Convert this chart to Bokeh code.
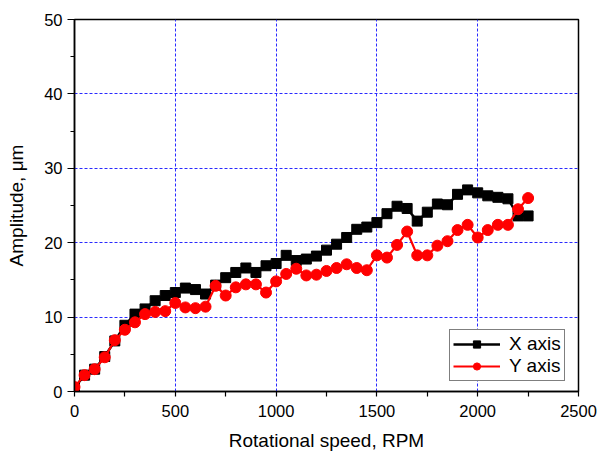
from bokeh.plotting import figure
from bokeh.models import FixedTicker, Range1d, Legend
from bokeh.embed import file_html
from bokeh.resources import INLINE

rpm = [0, 50, 100, 150, 200, 250, 300, 350, 400, 450,
       500, 550, 600, 650, 700, 750, 800, 850, 900, 950,
       1000, 1050, 1100, 1150, 1200, 1250, 1300, 1350, 1400, 1450,
       1500, 1550, 1600, 1650, 1700, 1750, 1800, 1850, 1900, 1950,
       2000, 2050, 2100, 2150, 2200, 2250]

x_axis_amp = [0.5, 2.2, 3.0, 4.7, 6.8, 8.9, 10.4, 11.1, 12.2, 12.9,
              13.3, 13.9, 13.7, 13.1, 14.3, 15.3, 16.0, 16.6, 16.0, 16.9,
              17.2, 18.3, 17.6, 17.8, 18.2, 19.0, 19.8, 20.7, 21.8, 22.1,
              22.7, 23.9, 24.9, 24.6, 22.9, 24.1, 25.2, 25.1, 26.5, 27.1,
              26.7, 26.3, 26.1, 25.9, 23.6, 23.6]

y_axis_amp = [0.6, 2.2, 3.0, 4.6, 6.9, 8.3, 9.3, 10.4, 10.7, 10.8,
              11.9, 11.3, 11.2, 11.4, 14.2, 12.9, 14.0, 14.4, 14.4, 13.3,
              14.8, 15.8, 16.5, 15.6, 15.7, 16.2, 16.6, 17.1, 16.6, 16.3,
              18.3, 18.0, 19.7, 21.5, 18.3, 18.3, 19.6, 20.2, 21.7, 22.4,
              20.7, 21.7, 22.4, 22.4, 24.5, 26.0]

x_ticks = [0, 500, 1000, 1500, 2000, 2500]
y_ticks = [0, 10, 20, 30, 40, 50]
x_minor = [250, 750, 1250, 1750, 2250]
y_minor = [5, 15, 25, 35, 45]
x_grid = [500, 1000, 1500, 2000]
y_grid = [10, 20, 30, 40]

FONT = "Liberation Sans"

p = figure(width=599, height=453, output_backend="svg", toolbar_location=None,
           x_range=Range1d(0, 2500), y_range=Range1d(0, 50),
           min_border_left=74, min_border_right=21, min_border_top=19,
           min_border_bottom=62)
p.background_fill_color = "white"
p.border_fill_color = "white"
p.outline_line_color = "black"
p.outline_line_width = 1.5
p.outline_line_alpha = 1

p.xaxis.ticker = FixedTicker(ticks=x_ticks, minor_ticks=x_minor)
p.yaxis.ticker = FixedTicker(ticks=y_ticks, minor_ticks=y_minor)
p.xgrid.ticker = FixedTicker(ticks=x_grid)
p.ygrid.ticker = FixedTicker(ticks=y_grid)
for g in (p.xgrid, p.ygrid):
    g.grid_line_color = "#2a2aff"
    g.grid_line_dash = "3 2"
    g.grid_line_width = 1

for ax in (p.xaxis, p.yaxis):
    ax.axis_line_color = "black"
    ax.axis_line_width = 1.5
    ax.major_tick_line_color = "black"
    ax.minor_tick_line_color = "black"
    ax.major_tick_line_width = 1.2
    ax.minor_tick_line_width = 1.2
    ax.major_tick_in = 0
    ax.minor_tick_in = 0
    ax.major_label_text_font = FONT
    ax.major_label_text_font_size = "16.5px"
    ax.major_label_text_color = "black"
    ax.axis_label_text_font = FONT
    ax.axis_label_text_font_size = "19px"
    ax.axis_label_text_font_style = "normal"
    ax.axis_label_text_color = "black"

p.xaxis.major_tick_out = 5
p.xaxis.minor_tick_out = 5
p.yaxis.major_tick_out = 7
p.yaxis.minor_tick_out = 4
p.xaxis.major_label_standoff = 8
p.yaxis.major_label_standoff = 5
p.xaxis.axis_label = "Rotational speed, RPM"
p.yaxis.axis_label = "Amplitude, \u03bcm"
p.xaxis.axis_label_standoff = 10
p.yaxis.axis_label_standoff = 14

l1 = p.line(rpm, x_axis_amp, line_color="black", line_width=2.5)
s1 = p.scatter(rpm, x_axis_amp, marker="square", size=10, fill_color="black", line_color="black")
l2 = p.line(rpm, y_axis_amp, line_color="#ff0000", line_width=2.2)
s2 = p.scatter(rpm, y_axis_amp, marker="circle", size=11, fill_color="#ff0000", line_color="#ff0000")

legend = Legend(items=[("X axis", [l1, s1]), ("Y axis", [l2, s2])],
                location=(375, 10))
legend.label_text_font = FONT
legend.label_text_font_size = "19px"
legend.label_text_color = "black"
legend.border_line_color = "black"
legend.border_line_width = 1
legend.background_fill_color = "white"
legend.background_fill_alpha = 1
legend.padding = 3
legend.margin = 0
legend.spacing = 0
legend.glyph_width = 47
legend.glyph_height = 18
legend.label_height = 18
legend.label_standoff = 9
p.add_layout(legend, "center")

open("out.html", "w").write(file_html(p, INLINE))
